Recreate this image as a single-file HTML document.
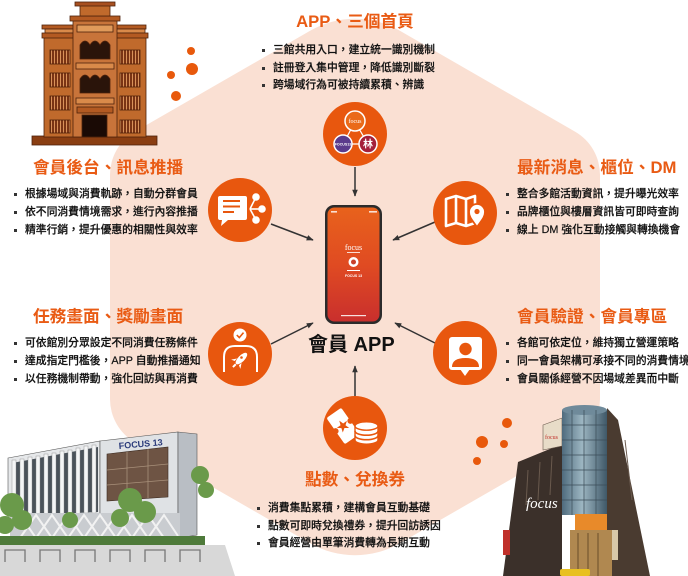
<!DOCTYPE html>
<html><head><meta charset="utf-8">
<style>
html,body{margin:0;padding:0;background:#fff;}
#c{position:relative;width:688px;height:576px;overflow:hidden;font-family:"Liberation Sans","Noto Sans CJK TC",sans-serif;background:#fff;}
svg{position:absolute;left:0;top:0;}
.t{position:absolute;font-weight:700;color:#e95b14;font-size:16.7px;line-height:20px;white-space:nowrap;}
.b{position:absolute;font-size:10.8px;line-height:14px;color:#111;white-space:nowrap;font-weight:500;-webkit-text-stroke:0.2px #111;}
.b::before{content:"";position:absolute;left:-11px;top:6px;width:3px;height:3px;background:#333;}
.app{position:absolute;left:308px;top:334px;font-size:20px;line-height:22px;font-weight:700;color:#111;white-space:nowrap;}
</style></head><body>
<div id="c">
<svg width="688" height="576" viewBox="0 0 688 576" xmlns="http://www.w3.org/2000/svg">
<defs>
<marker id="ah" viewBox="0 0 10 10" refX="9" refY="5" markerUnits="userSpaceOnUse" markerWidth="7" markerHeight="7" orient="auto"><path d="M0,1 L10,5 L0,9 Z" fill="#333"/></marker>
<linearGradient id="scr" x1="0" y1="0" x2="0" y2="1"><stop offset="0" stop-color="#e8621c"/><stop offset="0.5" stop-color="#e04b22"/><stop offset="1" stop-color="#c92f2d"/></linearGradient>
<linearGradient id="cyl" x1="0" y1="0" x2="1" y2="0"><stop offset="0" stop-color="#4f6b7d"/><stop offset="0.45" stop-color="#9db6c2"/><stop offset="1" stop-color="#3f5868"/></linearGradient>
<pattern id="grill" width="3" height="4" patternUnits="userSpaceOnUse"><rect width="3" height="4" fill="#7a3414"/><rect width="1" height="4" fill="#d9925a"/></pattern>
</defs>

<!-- hexagon background -->
<path d="M309.9 30.9 A90 90 0 0 1 400.1 30.9 L575 131.6 A50 50 0 0 1 600 174.9 L600 399.1 A50 50 0 0 1 575 442.4 L400.1 543.1 A90 90 0 0 1 309.9 543.1 L135 442.4 A50 50 0 0 1 110 399.1 L110 174.9 A50 50 0 0 1 135 131.6 Z" fill="#fae0d3"/>

<!-- top-left building -->
<g stroke="#4e220c" stroke-width="0.8">
<rect x="32" y="136" width="125" height="9" fill="#8a3e12"/>
<rect x="44" y="37" width="102" height="100" fill="#c06a2c"/>
<rect x="42" y="25" width="104" height="4" fill="#b35a22"/>
<rect x="45" y="29" width="100" height="4" fill="#d98a4a"/>
<rect x="42" y="33" width="106" height="5" fill="#b35a22"/>
<rect x="73" y="20" width="44" height="117" fill="#c8743a"/>
<rect x="70" y="16" width="50" height="5" fill="#b35a22"/>
<rect x="80" y="5" width="30" height="11" fill="#c06a2c"/>
<rect x="75" y="2" width="40" height="4" fill="#a85020"/>
<rect x="77" y="25" width="36" height="7" fill="#e09a5a"/>
<path d="M80 59 V45 Q85 37 90 45 Q95 37 100 45 Q105 37 110 45 V59 Z" fill="#2a140a"/>
<rect x="76" y="63" width="38" height="6" fill="#d98a4a"/>
<path d="M80 93 V79 Q85 71 90 79 Q95 71 100 79 Q105 71 110 79 V93 Z" fill="#2a140a"/>
<rect x="76" y="98" width="38" height="6" fill="#d98a4a"/>
<rect x="77" y="107" width="36" height="6" fill="#b35a22"/>
<rect x="82" y="115" width="25" height="22" fill="#1a0a05"/>
<rect x="50" y="50" width="20" height="14" fill="url(#grill)"/>
<rect x="120" y="50" width="20" height="14" fill="url(#grill)"/>
<rect x="50" y="73" width="20" height="14" fill="url(#grill)"/>
<rect x="120" y="73" width="20" height="14" fill="url(#grill)"/>
<rect x="50" y="96" width="20" height="14" fill="url(#grill)"/>
<rect x="120" y="96" width="20" height="14" fill="url(#grill)"/>
<rect x="50" y="120" width="20" height="13" fill="url(#grill)"/>
<rect x="120" y="120" width="20" height="13" fill="url(#grill)"/>
</g>
<circle cx="191" cy="51" r="4" fill="#e8590c"/>
<circle cx="192" cy="69" r="6" fill="#e8590c"/>
<circle cx="171" cy="75" r="4" fill="#e8590c"/>
<circle cx="176" cy="96" r="5" fill="#e8590c"/>

<!-- bottom-left building -->
<g>
<polygon points="8,458 100,441 100,516 8,520" fill="#e6e8ea" stroke="#555" stroke-width="0.6"/>
<polygon points="12,463 98,447 98,512 12,516" fill="#4a525a"/>
<g fill="#f4f5f6" stroke="#888" stroke-width="0.4">
<rect x="12" y="460" width="4" height="56"/><rect x="20" y="459" width="4" height="57"/><rect x="28" y="457" width="4" height="58"/><rect x="36" y="456" width="4" height="59"/><rect x="44" y="454" width="4" height="61"/><rect x="52" y="453" width="4" height="62"/><rect x="60" y="451" width="4" height="63"/><rect x="68" y="450" width="4" height="64"/><rect x="76" y="448" width="4" height="66"/><rect x="84" y="446" width="4" height="67"/><rect x="92" y="445" width="4" height="68"/>
</g>
<polygon points="100,441 178,432 178,538 100,538" fill="#dfe2e5" stroke="#555" stroke-width="0.6"/>
<polygon points="178,432 197,434 197,535 178,538" fill="#b9bec4" stroke="#555" stroke-width="0.6"/>
<text x="119" y="449" font-size="9" font-weight="700" fill="#2a3a7a" transform="rotate(-5 119 449)" font-family="Liberation Sans">FOCUS 13</text>
<polygon points="107,454 168,447 168,497 107,501" fill="#6e5444" stroke="#3a2a20" stroke-width="0.6"/>
<g stroke="#a8907a" stroke-width="0.8"><line x1="127" y1="452" x2="127" y2="500"/><line x1="148" y1="449" x2="148" y2="498"/><line x1="107" y1="470" x2="168" y2="464"/><line x1="107" y1="485" x2="168" y2="480"/></g>
<rect x="10" y="513" width="170" height="26" fill="#c9ccd0"/>
<g stroke="#f2f2f2" stroke-width="2" fill="none"><path d="M20 538 L36 515 L52 538 L68 515 L84 538 L100 515 L116 538 L132 515 L148 538 L164 515 L178 536"/><path d="M20 515 L36 538 L52 515 L68 538 L84 515 L100 538 L116 515 L132 538 L148 515 L164 538"/></g>
<g fill="#6a9a4a"><circle cx="12" cy="505" r="12"/><circle cx="22" cy="520" r="10"/><circle cx="5" cy="525" r="9"/><circle cx="70" cy="520" r="8"/><circle cx="130" cy="500" r="12"/><circle cx="145" cy="512" r="11"/><circle cx="120" cy="518" r="9"/><circle cx="200" cy="475" r="9"/><circle cx="206" cy="490" r="8"/></g>
<rect x="0" y="536" width="205" height="9" fill="#4e7a3a"/>
<polygon points="0,545 225,545 235,576 0,576" fill="#d8d8d8"/>
<g stroke="#777" stroke-width="1.3" fill="none"><path d="M5 562 V550 H25 V562"/><path d="M40 562 V550 H60 V562"/><path d="M75 562 V550 H95 V562"/><path d="M110 562 V550 H130 V562"/><path d="M145 562 V550 H165 V562"/><path d="M180 562 V550 H200 V562"/></g>
</g>

<!-- bottom-right building -->
<circle cx="507" cy="423" r="5" fill="#e8590c"/>
<circle cx="482" cy="442" r="6" fill="#e8590c"/>
<circle cx="504" cy="444" r="4" fill="#e8590c"/>
<circle cx="477" cy="461" r="4" fill="#e8590c"/>
<g>
<polygon points="607,408 618,420 650,576 607,576" fill="#4a3b30"/>
<polygon points="518,462 562,444 562,576 503,576" fill="#3b302a"/>
<g stroke="#6a5a4e" stroke-width="1"><line x1="528" y1="470" x2="526" y2="505"/><line x1="540" y1="462" x2="538" y2="500"/><line x1="552" y1="456" x2="550" y2="495"/><line x1="625" y1="440" x2="632" y2="500"/></g>
<polygon points="543,425 562,418 562,446 543,450" fill="#e8dcc8" stroke="#6a5a4e" stroke-width="0.6"/>
<text x="545" y="439" font-size="6" fill="#c0302a" font-family="Liberation Serif">focus</text>
<rect x="562" y="410" width="45" height="105" fill="url(#cyl)"/>
<ellipse cx="584.5" cy="410" rx="22.5" ry="5" fill="#6f8a9a"/>
<g stroke="#3b4c58" stroke-width="0.7"><line x1="562" y1="425" x2="607" y2="425"/><line x1="562" y1="440" x2="607" y2="440"/><line x1="562" y1="455" x2="607" y2="455"/><line x1="562" y1="470" x2="607" y2="470"/><line x1="562" y1="485" x2="607" y2="485"/><line x1="562" y1="500" x2="607" y2="500"/><line x1="572" y1="410" x2="572" y2="515"/><line x1="584" y1="410" x2="584" y2="515"/><line x1="596" y1="410" x2="596" y2="515"/></g>
<text x="526" y="508" font-size="15" fill="#fff" font-style="italic" font-family="Liberation Serif">focus</text>
<rect x="575" y="514" width="32" height="16" fill="#e88a2a"/>
<rect x="570" y="530" width="42" height="46" fill="#b08850"/>
<g stroke="#6a4e2a" stroke-width="1"><line x1="578" y1="533" x2="578" y2="576"/><line x1="588" y1="533" x2="588" y2="576"/><line x1="598" y1="533" x2="598" y2="576"/></g>
<rect x="503" y="530" width="7" height="25" fill="#c0302a"/>
<rect x="612" y="530" width="6" height="30" fill="#d8c8a8"/>
<rect x="560" y="569" width="30" height="7" rx="2" fill="#e8c020"/>
</g>

<!-- arrows -->
<g stroke="#333" stroke-width="1.5" marker-end="url(#ah)">
<line x1="355" y1="167" x2="355" y2="196"/>
<line x1="271" y1="224" x2="313" y2="240"/>
<line x1="435" y1="222" x2="393" y2="240"/>
<line x1="271" y1="344" x2="313" y2="323"/>
<line x1="435" y1="343" x2="395" y2="323"/>
<line x1="355" y1="396" x2="355" y2="366"/>
</g>

<!-- circles -->
<g fill="#e8570e">
<circle cx="355" cy="134" r="32"/>
<circle cx="240" cy="210" r="32"/>
<circle cx="465" cy="213" r="32"/>
<circle cx="240" cy="354" r="32"/>
<circle cx="465" cy="353" r="32"/>
<circle cx="355" cy="428" r="32"/>
</g>

<!-- top icon -->
<path d="M355 122 L343 144 L368 144 Z" stroke="#fff" stroke-width="1.2" fill="none"/>
<circle cx="355" cy="121" r="10" fill="#ea6a1a" stroke="#fff" stroke-width="1.5"/>
<text x="355" y="123" font-size="6" fill="#fff" text-anchor="middle" font-family="Liberation Serif">focus</text>
<circle cx="343" cy="144" r="9" fill="#5b3b8c" stroke="#fff" stroke-width="1.5"/>
<text x="343" y="145.5" font-size="3.6" fill="#fff" text-anchor="middle" font-family="Liberation Sans" font-weight="700">FOCUS13</text>
<circle cx="368" cy="144" r="9" fill="#a5203a" stroke="#fff" stroke-width="1.5"/>
<text x="368" y="147.5" font-size="10" fill="#fff" text-anchor="middle" font-weight="700" font-family="Noto Sans CJK TC,sans-serif">林</text>

<!-- left-top icon: chat + share -->
<path d="M220 196 H245 Q247 196 247 198 V218 Q247 220 245 220 H228 L221 226 L222 220 H220 Q218 220 218 218 V198 Q218 196 220 196 Z" fill="#fff"/>
<g stroke="#e8570e" stroke-width="2"><line x1="223" y1="201" x2="240" y2="201"/><line x1="223" y1="206.5" x2="240" y2="206.5"/><line x1="223" y1="212" x2="234" y2="212"/></g>
<g stroke="#fff" stroke-width="1.6"><line x1="250" y1="209" x2="256" y2="197"/><line x1="250" y1="209" x2="262" y2="209"/><line x1="250" y1="209" x2="256" y2="220"/></g>
<g fill="#fff"><circle cx="256" cy="197" r="3.8"/><circle cx="262" cy="209" r="3.8"/><circle cx="256" cy="220" r="3.8"/></g>

<!-- right-top icon: map + pin -->
<g stroke="#fff" stroke-width="2.6" fill="none" stroke-linejoin="round"><path d="M446 199 L456 196 L466 199 L475 196 L475 223 L466 226 L456 223 L446 226 Z"/><line x1="456" y1="196" x2="456" y2="223"/><line x1="466" y1="199" x2="466" y2="226"/></g>
<path d="M477 227 C472 220 469 217 469 212 A8 8 0 1 1 485 212 C485 217 482 220 477 227 Z" fill="#fff" stroke="#e8570e" stroke-width="1.8"/>
<circle cx="477" cy="211.5" r="2.6" fill="#e8570e"/>

<!-- left-bottom icon -->
<path d="M224 372 V357 Q224 346 235 346 H246 Q257 346 257 357 V372" stroke="#fff" stroke-width="2" fill="none"/>
<circle cx="240" cy="335" r="6.5" fill="#fff"/>
<path d="M236.8 335 L239.3 337.6 L243.5 332.6" stroke="#e8570e" stroke-width="1.6" fill="none"/>
<g transform="rotate(45 240 360)" fill="#fff">
<ellipse cx="240" cy="358" rx="3.2" ry="7.5"/>
<path d="M236.8 361 L233.5 366 L237 364.5 Z"/><path d="M243.2 361 L246.5 366 L243 364.5 Z"/>
<rect x="239" y="366" width="2" height="4"/>
</g>
<circle cx="241.5" cy="357.5" r="1.3" fill="#e8570e"/>

<!-- right-bottom icon -->
<rect x="449" y="337" width="33" height="33" rx="3" fill="#fff"/>
<polygon points="460,369 470,369 465,376" fill="#fff"/>
<circle cx="465.5" cy="349" r="6.2" fill="#e8570e"/>
<path d="M452 367 Q452 358 465.5 358 Q479 358 479 367 Z" fill="#e8570e"/>

<!-- bottom icon: ticket + coins -->
<g transform="rotate(-35 343 426)">
<rect x="334" y="410" width="18" height="32" rx="2" fill="#fff"/>
<circle cx="334" cy="426" r="3" fill="#e8570e"/><circle cx="352" cy="426" r="3" fill="#e8570e"/>
<polygon points="343,419.5 344.6,424 349.2,424 345.5,426.8 346.9,431.2 343,428.5 339.1,431.2 340.5,426.8 336.8,424 341.4,424" fill="#e8570e"/>
</g>
<path d="M355 426 V440 A11.5 4.2 0 0 0 378 440 V426 Z" fill="#fff" stroke="#e8570e" stroke-width="1.4"/>
<ellipse cx="366.5" cy="426" rx="11.5" ry="4.2" fill="#fff" stroke="#e8570e" stroke-width="1.4"/>
<g stroke="#e8570e" stroke-width="1.6" fill="none"><path d="M355 431 A11.5 4.2 0 0 0 378 431"/><path d="M355 435.5 A11.5 4.2 0 0 0 378 435.5"/></g>

<!-- phone -->
<rect x="325" y="205" width="57" height="119" rx="9" fill="#2b2b2b"/>
<rect x="327.5" y="207.5" width="52" height="114" rx="7" fill="url(#scr)"/>
<g fill="#fff">
<rect x="331" y="211" width="6" height="1.6" opacity="0.8"/><rect x="369" y="211" width="8" height="1.6" opacity="0.8"/>
<text x="353.5" y="250" font-size="8" text-anchor="middle" font-family="Liberation Serif">focus</text>
<rect x="347" y="252" width="13" height="0.8"/>
<circle cx="353.5" cy="262" r="5"/>
<rect x="347" y="270" width="13" height="1"/>
<text x="353.5" y="277" font-size="3.5" text-anchor="middle" font-family="Liberation Sans" font-weight="700">FOCUS 13</text>
<rect x="341" y="315" width="25" height="1.2" opacity="0.85"/>
</g>
<circle cx="353.5" cy="262" r="2.5" fill="#c9402a"/>
</svg>

<div class="t" style="left:255px;top:12px;width:200px;text-align:center;">APP、三個首頁</div>
<div class="b" style="left:273px;top:43px;">三館共用入口，建立統一識別機制</div>
<div class="b" style="left:273px;top:61px;">註冊登入集中管理，降低識別斷裂</div>
<div class="b" style="left:273px;top:78px;">跨場域行為可被持續累積、辨識</div>

<div class="t" style="left:33px;top:158px;">會員後台、訊息推播</div>
<div class="b" style="left:25px;top:187px;">根據場域與消費軌跡，自動分群會員</div>
<div class="b" style="left:25px;top:205px;">依不同消費情境需求，進行內容推播</div>
<div class="b" style="left:25px;top:223px;">精準行銷，提升優惠的相關性與效率</div>

<div class="t" style="left:517px;top:158px;">最新消息、櫃位、DM</div>
<div class="b" style="left:517px;top:187px;">整合多館活動資訊，提升曝光效率</div>
<div class="b" style="left:517px;top:205px;">品牌櫃位與樓層資訊皆可即時查詢</div>
<div class="b" style="left:517px;top:223px;">線上 DM 強化互動接觸與轉換機會</div>

<div class="t" style="left:33px;top:307px;">任務畫面、獎勵畫面</div>
<div class="b" style="left:25px;top:336px;">可依館別分眾設定不同消費任務條件</div>
<div class="b" style="left:25px;top:354px;">達成指定門檻後，APP 自動推播通知</div>
<div class="b" style="left:25px;top:372px;">以任務機制帶動，強化回訪與再消費</div>

<div class="t" style="left:517px;top:307px;">會員驗證、會員專區</div>
<div class="b" style="left:517px;top:336px;">各館可依定位，維持獨立營運策略</div>
<div class="b" style="left:517px;top:354px;">同一會員架構可承接不同的消費情境</div>
<div class="b" style="left:517px;top:372px;">會員關係經營不因場域差異而中斷</div>

<div class="app">會員 APP</div>

<div class="t" style="left:255px;top:470px;width:200px;text-align:center;">點數、兌換券</div>
<div class="b" style="left:268px;top:501px;">消費集點累積，建構會員互動基礎</div>
<div class="b" style="left:268px;top:519px;">點數可即時兌換禮券，提升回訪誘因</div>
<div class="b" style="left:268px;top:536px;">會員經營由單筆消費轉為長期互動</div>
</div>
</body></html>
